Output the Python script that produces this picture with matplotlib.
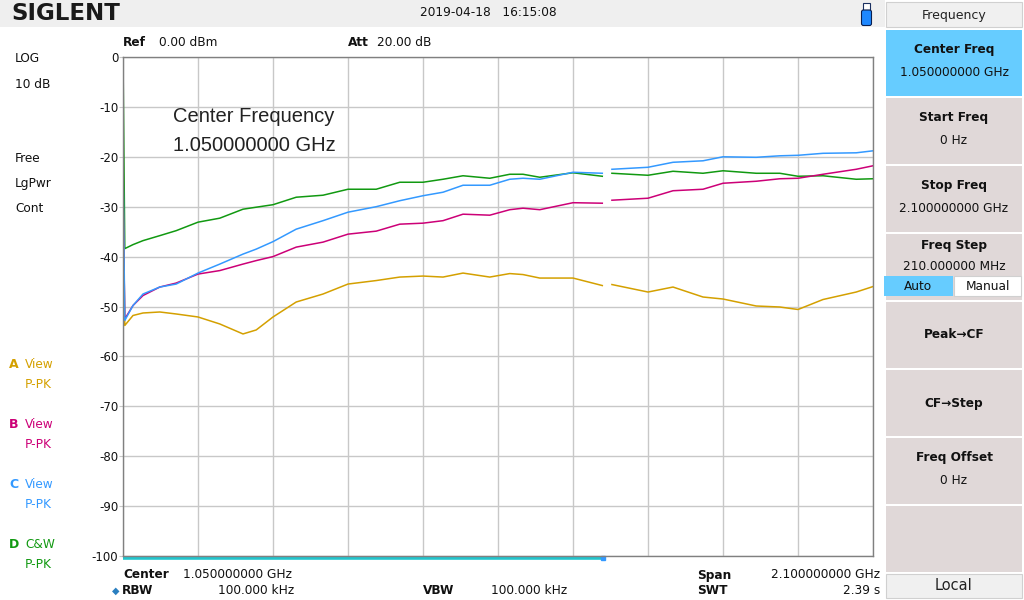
import numpy as np
import matplotlib.pyplot as plt
from matplotlib.patches import Rectangle, FancyBboxPatch

# sweep data (GHz, dBm); nan marks the refresh gap
freq = [0.0, 0.005, 0.028, 0.056, 0.103, 0.149, 0.21, 0.271, 0.336, 0.373,
        0.42, 0.485, 0.56, 0.63, 0.709, 0.775, 0.84, 0.896, 0.952, 1.027,
        1.083, 1.12, 1.167, 1.26, 1.342, 1.355, 1.369, 1.47, 1.54, 1.624,
        1.68, 1.773, 1.839, 1.89, 1.96, 2.053, 2.1]
nan = np.nan
traceA = [-26, -53.8, -51.8, -51.3, -51.1, -51.5, -52.1, -53.5, -55.5, -54.7,
          -52.1, -49.1, -47.5, -45.5, -44.8, -44.1, -43.9, -44.1, -43.3, -44.1,
          -43.4, -43.6, -44.3, -44.3, -45.8, nan, -45.6, -47.1, -46.1, -48.1,
          -48.5, -49.9, -50.1, -50.6, -48.6, -47.1, -46.0]
traceB = [-27, -52.5, -49.8, -47.8, -46.1, -45.3, -43.5, -42.8, -41.5, -40.8,
          -40.0, -38.1, -37.1, -35.5, -34.9, -33.5, -33.3, -32.8, -31.5, -31.7,
          -30.6, -30.3, -30.6, -29.2, -29.3, nan, -28.7, -28.3, -26.8, -26.5,
          -25.3, -24.9, -24.4, -24.3, -23.5, -22.5, -21.8]
traceC = [-21, -52.8, -49.8, -47.5, -46.1, -45.5, -43.3, -41.5, -39.5, -38.5,
          -37.0, -34.5, -32.8, -31.1, -30.0, -28.8, -27.8, -27.1, -25.7, -25.7,
          -24.5, -24.3, -24.5, -23.1, -23.3, nan, -22.5, -22.1, -21.1, -20.8,
          -20.0, -20.1, -19.8, -19.7, -19.3, -19.2, -18.8]
traceD = [0, -38.4, -37.6, -36.8, -35.8, -34.8, -33.1, -32.3, -30.5, -30.1,
          -29.6, -28.1, -27.7, -26.5, -26.5, -25.1, -25.1, -24.5, -23.8, -24.3,
          -23.5, -23.5, -24.1, -23.2, -23.9, nan, -23.3, -23.7, -22.9, -23.3,
          -22.8, -23.3, -23.3, -23.9, -23.8, -24.5, -24.4]
floor_end = 1.343

yticks = [0, -10, -20, -30, -40, -50, -60, -70, -80, -90, -100]

colA, colB, colC, colD = "#d4a000", "#cc0077", "#3399ff", "#119911"

fig = plt.figure(figsize=(10.24, 6.0), dpi=100)
fig.patch.set_facecolor("white")

# screen background in pixel coords
bg = fig.add_axes([0, 0, 1, 1])
bg.set_xlim(0, 1024)
bg.set_ylim(600, 0)
bg.axis("off")

bg.add_patch(Rectangle((0, 0), 885, 27, fc="#efefef", ec="none"))
bg.text(11, 13.5, "SIGLENT", fontsize=16.5, fontweight="heavy", va="center", color="#1a1a1a")
bg.text(420, 13, "2019-04-18   16:15:08", fontsize=8.7, va="center", color="#111")
bg.add_patch(Rectangle((863, 3), 7, 7, fc="white", ec="#1a3060", lw=0.8))
bg.add_patch(FancyBboxPatch((861.5, 10), 10, 15.5, boxstyle="round,pad=0,rounding_size=2",
                            fc="#1e88ff", ec="#0a2050", lw=0.8))

# left status column
f = dict(fontsize=8.7, va="center", color="#111")
for y, s in [(59, "LOG"), (84, "10 dB"), (159, "Free"), (184, "LgPwr"), (209, "Cont")]:
    bg.text(15, y, s, **f)
for y, letter, mode, c in [(364, "A", "View", colA), (424, "B", "View", colB),
                           (484, "C", "View", colC), (544, "D", "C&W", colD)]:
    bg.text(9, y, letter, fontsize=9, fontweight="bold", va="center", color=c)
    bg.text(25, y, mode, fontsize=8.7, va="center", color=c)
    bg.text(25, y + 20, "P-PK", fontsize=8.7, va="center", color=c)

# top / bottom info lines
b = dict(fontsize=8.7, va="center", color="#111", fontweight="bold")
bg.text(123, 43, "Ref", **b)
bg.text(159, 43, "0.00 dBm", **f)
bg.text(348, 43, "Att", **b)
bg.text(377, 43, "20.00 dB", **f)
bg.text(123, 575, "Center", **b)
bg.text(183, 575, "1.050000000 GHz", **f)
bg.text(697, 575, "Span", **b)
bg.text(880, 575, "2.100000000 GHz", ha="right", **f)
bg.text(112, 591, "\u25c6", fontsize=7, va="center", color="#2a7fc0")
bg.text(122, 591, "RBW", **b)
bg.text(218, 591, "100.000 kHz", **f)
bg.text(423, 591, "VBW", **b)
bg.text(491, 591, "100.000 kHz", **f)
bg.text(697, 591, "SWT", **b)
bg.text(880, 591, "2.39 s", ha="right", **f)

# right softkey panel
bx, bw = 886, 136
bg.add_patch(Rectangle((bx, 2), bw, 25, fc="#f0f0f0", ec="#d0d0d0", lw=0.8))
bg.text(bx + bw / 2, 15, "Frequency", fontsize=9, ha="center", va="center", color="#222")
keys = [(30, 96, "#66ccff", "Center Freq", "1.050000000 GHz"),
        (98, 164, "#e0d8d8", "Start Freq", "0 Hz"),
        (166, 232, "#e0d8d8", "Stop Freq", "2.100000000 GHz"),
        (302, 368, "#e0d8d8", "Peak\u2192CF", None),
        (370, 436, "#e0d8d8", "CF\u2192Step", None),
        (438, 504, "#e0d8d8", "Freq Offset", "0 Hz"),
        (506, 572, "#e0d8d8", None, None)]
for y0, y1, c, t1, t2 in keys:
    bg.add_patch(Rectangle((bx, y0), bw, y1 - y0, fc=c, ec="none"))
    if t1 and t2:
        bg.text(bx + bw / 2, y0 + 19, t1, ha="center", **b)
        bg.text(bx + bw / 2, y0 + 43, t2, ha="center", **f)
    elif t1:
        bg.text(bx + bw / 2, (y0 + y1) / 2, t1, ha="center", **b)
bg.add_patch(Rectangle((bx, 234), bw, 66, fc="#e0d8d8", ec="none"))
bg.text(bx + bw / 2, 245, "Freq Step", ha="center", **b)
bg.text(bx + bw / 2, 266, "210.000000 MHz", ha="center", **f)
bg.add_patch(Rectangle((884, 276), 69, 20, fc="#66ccff", ec="none"))
bg.add_patch(Rectangle((954, 276), 67, 20, fc="white", ec="#d0d0d0", lw=0.8))
bg.text(918, 286, "Auto", ha="center", **f)
bg.text(988, 286, "Manual", ha="center", **f)
bg.add_patch(Rectangle((bx, 574), bw, 24, fc="#f0f0f0", ec="#d0d0d0", lw=0.8))
bg.text(bx + bw / 2, 586, "Local", fontsize=10.5, ha="center", va="center", color="#222")

# trace window
ax = fig.add_axes([123 / 1024, 1 - 556 / 600, 750 / 1024, 499 / 600])
ax.patch.set_visible(False)
ax.set_xlim(0, 2.1)
ax.set_ylim(-100, 0)
ax.set_xticks(np.linspace(0, 2.1, 11))
ax.set_yticks(yticks)
ax.set_yticklabels([str(v) for v in yticks])
ax.grid(True, color="#c8c8c8", lw=1)
ax.tick_params(axis="x", length=0, labelbottom=False)
ax.tick_params(axis="y", length=3, color="#c8c8c8", pad=0.5, labelsize=8.5, labelcolor="#111")
for s in ax.spines.values():
    s.set_color("#808080")
    s.set_linewidth(1)

# marker note sits over the grid
ax.text(0.067, 0.88, "Center Frequency", transform=ax.transAxes, fontsize=14.5,
        family="Liberation Sans", va="center", color="#222", zorder=5)
ax.text(0.067, 0.822, "1.050000000 GHz", transform=ax.transAxes, fontsize=14.5,
        family="Liberation Sans", va="center", color="#222", zorder=5)

ax.plot(freq, traceD, color=colD, lw=1.1)
ax.plot(freq, traceA, color=colA, lw=1.1)
ax.plot(freq, traceB, color=colB, lw=1.1)
ax.plot(freq, traceC, color=colC, lw=1.1)
ax.plot([0, floor_end], [-100.35, -100.35], color="#22c4cc", lw=2.6, clip_on=False, solid_capstyle="butt")
ax.plot([floor_end], [-100.35], marker="s", ms=3, color=colC, clip_on=False)

fig.savefig("out.png", dpi=100)
